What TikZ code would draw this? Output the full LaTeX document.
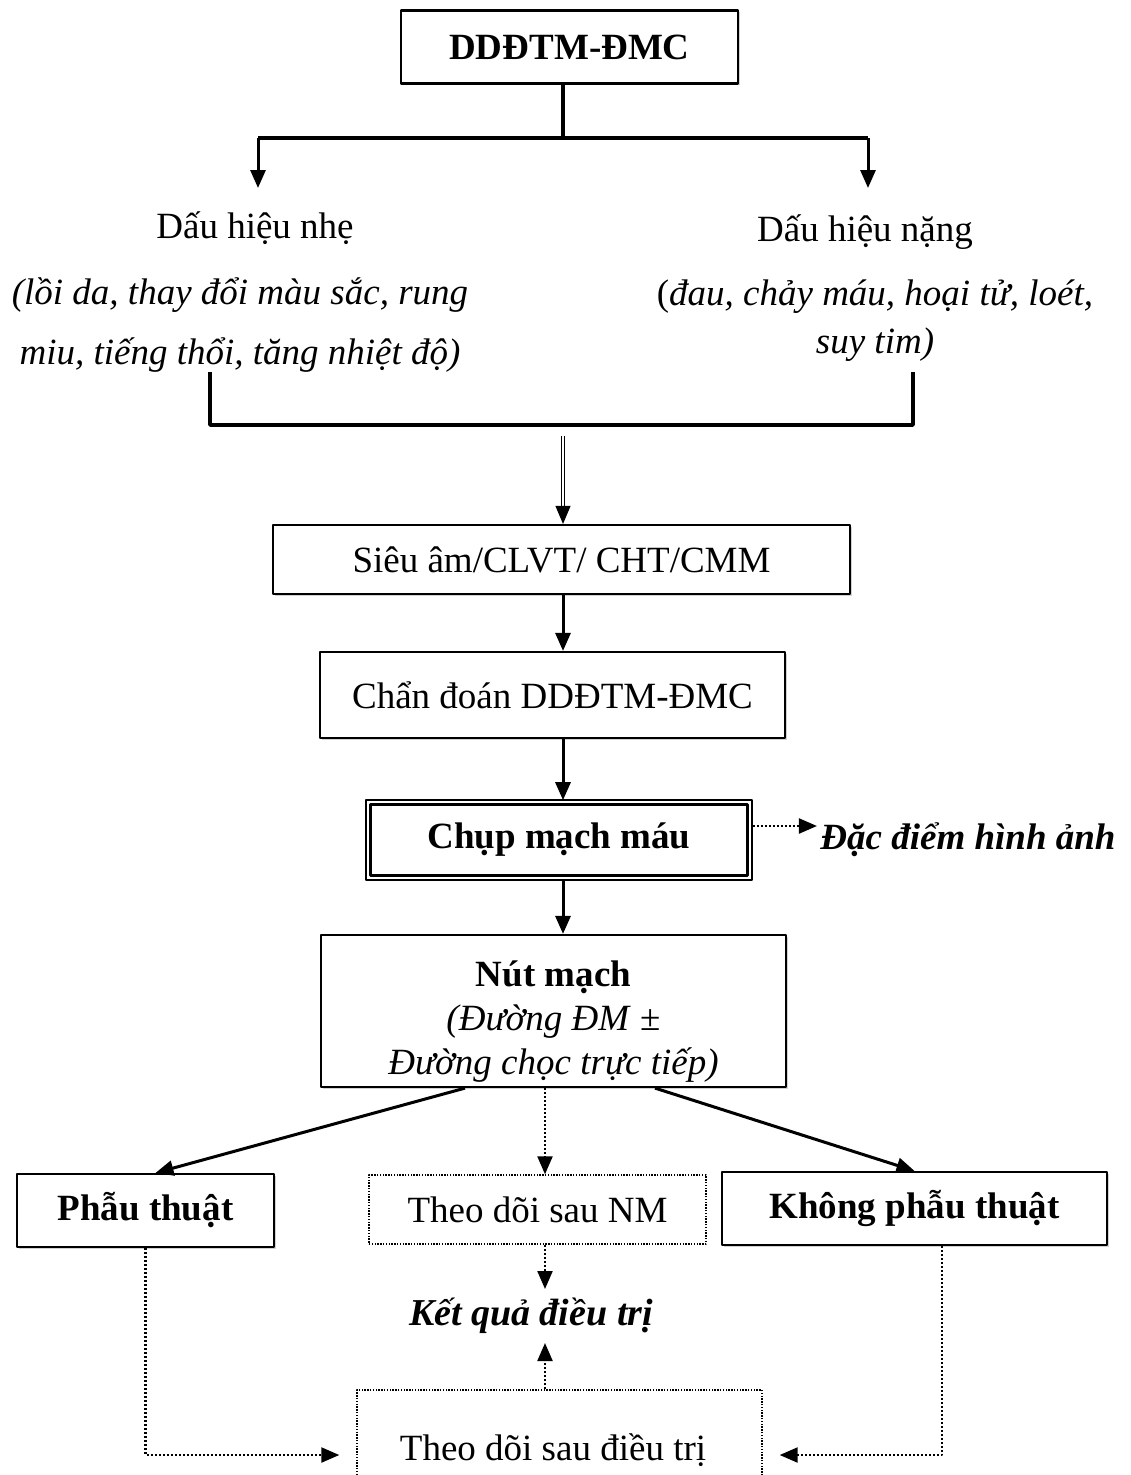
\documentclass[tikz,border=0pt]{standalone}
\usepackage{fontspec}
\setmainfont{Liberation Serif}
\usetikzlibrary{arrows.meta,shadows}

\begin{document}
\begin{tikzpicture}[x=1pt,y=-1pt,line join=round,
  font=\fontsize{37}{44}\selectfont,
  box/.style={draw,line width=2.2pt,inner sep=0pt,align=center,fill=white,
    drop shadow={shadow xshift=1.5pt,shadow yshift=-1.5pt,fill=black!35}},
  dotbox/.style={draw,line width=1.4pt,dash pattern=on 1.4pt off 1.4pt,inner sep=0pt,align=center},
  conn/.style={line width=3pt,-{Triangle[length=18pt,width=15pt]}},
  dotconn/.style={line width=2.2pt,dash pattern=on 2pt off 2pt,-{Triangle[length=18pt,width=15pt]}},
  tip/.style={line width=1pt,-{Triangle[length=18pt,width=15pt]}}]
  % Page frame of the original figure; the last box runs off the bottom.
  \useasboundingbox (0,0) rectangle (1130,1475);
  \clip (0,0) rectangle (1130,1475);

  % Guide coordinates.
  \coordinate (axis) at (563,0);
  \coordinate (mid) at (545,0);
  \coordinate (split) at (563,138);
  \coordinate (mildin) at (258,188);
  \coordinate (heavyin) at (868,188);
  \coordinate (join) at (563,425);
  \coordinate (dbl) at (563,436);

  % Boxes and labels.
  \node[box,minimum width=337,minimum height=73,font=\fontsize{37}{44}\selectfont\bfseries] (top) at (569.5,47) {DDĐTM-ĐMC};
  \node (mild) at (255,228) {Dấu hiệu nhẹ};
  \node (heavy) at (865,232) {Dấu hiệu nặng};
  \node[align=center,font=\fontsize{37}{60}\selectfont\itshape] (mildtxt) at (240,325)
    {(lồi da, thay đổi màu sắc, rung\\miu, tiếng thổi, tăng nhiệt độ)};
  \node[align=center,font=\fontsize{37}{48}\selectfont] (heavytxt) at (875,321)
    {(\textit{đau, chảy máu, hoại tử, loét,}\\\textit{suy tim)}};
  \node[box,minimum width=577,minimum height=69] (scan) at (561.5,559.5) {Siêu âm/CLVT/ CHT/CMM};
  \node[box,minimum width=465,minimum height=86] (diag) at (552.5,695) {Chẩn đoán DDĐTM-ĐMC};
  \node[draw,line width=1.6pt,inner sep=0pt,minimum width=386,minimum height=80,
    font=\fontsize{37}{44}\selectfont\bfseries] (angio) at (559,840) {Chụp mạch máu};
  \draw[line width=3pt] ([xshift=5.5pt,yshift=-5.5pt]angio.north west) rectangle ([xshift=-5.5pt,yshift=5.5pt]angio.south east);
  \node[font=\fontsize{37}{44}\selectfont\bfseries\itshape] (feat) at (968,840) {Đặc điểm hình ảnh};
  \node[box,minimum width=465,minimum height=152,font=\fontsize{37}{44}\selectfont] (emb) at (553.5,1011)
    {\rule{0pt}{46pt}\textbf{Nút mạch}\\\textit{(Đường ĐM} ±\\\textit{Đường chọc trực tiếp)}};
  \node[box,minimum width=257,minimum height=73,font=\fontsize{37}{44}\selectfont\bfseries] (surg) at (145.5,1210.5) {Phẫu thuật};
  \node[dotbox,minimum width=337,minimum height=69] (follow) at (537.5,1209.5) {Theo dõi sau NM};
  \node[box,minimum width=385,minimum height=73,font=\fontsize{37}{44}\selectfont\bfseries] (nosurg) at (914.5,1208.5) {Không phẫu thuật};
  \node[inner sep=9pt,font=\fontsize{38}{44}\selectfont\bfseries\itshape] (result) at (531,1316) {Kết quả điều trị};
  \node[dotbox,minimum width=405,minimum height=120] (after) at (559.5,1450) {};
  \node (aftertxt) at (553,1450) {Theo dõi sau điều trị};

  % Upper branches.
  \draw[line width=3.2pt] (top.south -| axis) -- (split);
  \draw[line width=4pt] (mildin |- split) -- (heavyin |- split);
  \draw[conn] (mildin |- split) -- (mildin);
  \draw[conn] (heavyin |- split) -- (heavyin);
  \draw[line width=3.8pt] (210,372) -- (210,425) -- (join) -- (913,425) -- (913,372);

  % Main column.
  \draw[line width=1.2pt,double,double distance=2.2pt,shorten >=16pt] (dbl) -- (scan.north -| axis);
  \draw[tip] ([yshift=18pt]scan.north -| axis) -- (scan.north -| axis);
  \draw[conn] (scan.south -| axis) -- (diag.north -| axis);
  \draw[conn] (diag.south -| axis) -- ([yshift=-1pt]angio.north -| axis);
  \draw[dotconn] ([yshift=14pt]angio.east) -- ([yshift=14pt]feat.west);
  \draw[conn] (angio.south -| axis) -- (emb.north -| axis);

  % Treatment branches.
  \draw[conn] ([xshift=-88.5pt]emb.south) -- ([xshift=10pt]surg.north);
  \draw[conn] ([xshift=101.5pt]emb.south) -- (nosurg.north);
  \draw[dotconn] (emb.south -| mid) -- (follow.north -| mid);
  \draw[dotconn] (follow.south -| mid) -- (result.north -| mid);
  \draw[dotconn] (after.north -| mid) -- (result.south -| mid);
  \draw[dotconn,shorten >=17pt] (surg.south) |- ([yshift=-5pt]after.west);
  \draw[dotconn,shorten >=17pt] ([xshift=27.5pt]nosurg.south) |- ([yshift=-5pt]after.east);
\end{tikzpicture}
\end{document}
